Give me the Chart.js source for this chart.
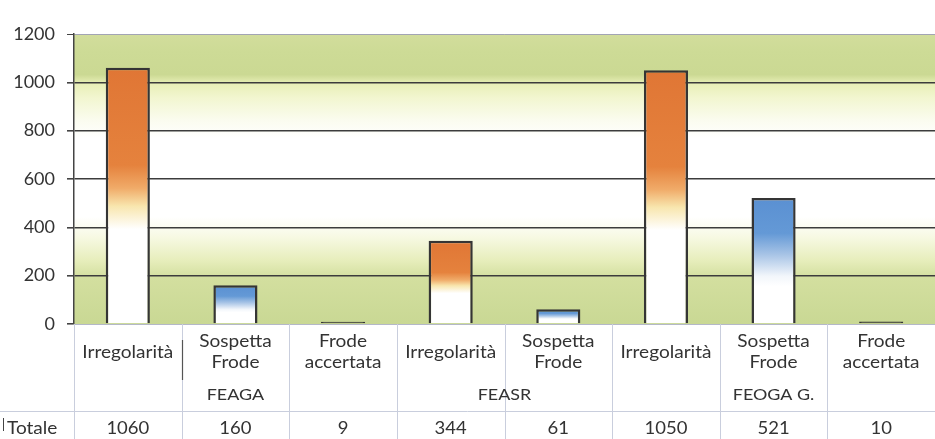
<!DOCTYPE html>
<html>
<head>
<meta charset="utf-8">
<script src="https://cdn.jsdelivr.net/npm/chart.js@4/dist/chart.umd.min.js"></script>
<style>
  html, body { margin: 0; padding: 0; background: #ffffff; }
  #wrap { width: 935px; height: 439px; position: relative; }
</style>
</head>
<body>
<div id="wrap"><canvas id="c" width="935" height="439"></canvas></div>
<script>
// ---- data ----
const groups = ['FEAGA', 'FEASR', 'FEOGA G.'];
const groupOf = [0, 0, 0, 1, 1, 2, 2, 2];
const categories = [
  ['Irregolarità'], ['Sospetta', 'Frode'], ['Frode', 'accertata'],
  ['Irregolarità'], ['Sospetta', 'Frode'],
  ['Irregolarità'], ['Sospetta', 'Frode'], ['Frode', 'accertata']
];
const kinds = ['irr', 'sosp', 'frode', 'irr', 'sosp', 'irr', 'sosp', 'frode'];
const values = [1060, 160, 9, 344, 61, 1050, 521, 10];
const tableLabel = 'Totale';
const yTicks = [0, 200, 400, 600, 800, 1000, 1200];

const FONT = 'Lato, "Open Sans", sans-serif';
const TEXT = '#333333';
const STRETCH = 1.12;

function barFill(context) {
  const chart = context.chart;
  const area = chart.chartArea;
  const kind = kinds[context.dataIndex];
  const solid = kind === 'irr' ? '#e27a3a' : '#5b92d4';
  if (!area || !context.parsed) return solid;
  const y = chart.scales.y;
  const top = y.getPixelForValue(context.parsed.y);
  const bot = y.getPixelForValue(0);
  if (bot - top < 4) return '#333333';
  const g = chart.ctx.createLinearGradient(0, top, 0, bot);
  if (kind === 'irr') {
    g.addColorStop(0, '#e07635');
    g.addColorStop(0.38, '#e5823d');
    g.addColorStop(0.47, '#f0ab69');
    g.addColorStop(0.54, '#f8e6ae');
    g.addColorStop(0.63, '#ffffff');
    g.addColorStop(1, '#ffffff');
  } else {
    g.addColorStop(0, '#5a90d2');
    g.addColorStop(0.28, '#6499d6');
    g.addColorStop(0.45, '#a8c4e6');
    g.addColorStop(0.62, '#f2f6fb');
    g.addColorStop(0.7, '#ffffff');
    g.addColorStop(1, '#ffffff');
  }
  return g;
}

const bgPlugin = {
  id: 'bg',
  beforeDraw(chart) {
    const { ctx, chartArea: a } = chart;
    ctx.save();
    ctx.fillStyle = '#ffffff';
    ctx.fillRect(0, 0, chart.width, chart.height);
    const g = ctx.createLinearGradient(0, a.top, 0, a.bottom);
    g.addColorStop(0.00, '#d2dd9c');
    g.addColorStop(0.06, '#cddb96');
    g.addColorStop(0.14, '#cbd993');
    g.addColorStop(0.17, '#e8efb6');
    g.addColorStop(0.22, '#f2f6d0');
    g.addColorStop(0.30, '#fbfcf0');
    g.addColorStop(0.36, '#ffffff');
    g.addColorStop(0.63, '#ffffff');
    g.addColorStop(0.70, '#f7f9e3');
    g.addColorStop(0.78, '#e7eebc');
    g.addColorStop(0.84, '#d3df9f');
    g.addColorStop(1.00, '#c9d894');
    ctx.fillStyle = g;
    ctx.fillRect(a.left, a.top, a.right - a.left, a.bottom - a.top);
    ctx.restore();
  }
};

function stretchedText(ctx, text, cx, y, align) {
  ctx.save();
  ctx.translate(cx, y);
  ctx.scale(STRETCH, 1);
  ctx.textAlign = align || 'center';
  ctx.fillText(text, 0, 0);
  ctx.restore();
}

const labelPlugin = {
  id: 'labels',
  afterDraw(chart) {
    const { ctx, chartArea: a } = chart;
    const x = chart.scales.x;
    const half = (x.getPixelForValue(1) - x.getPixelForValue(0)) / 2;
    ctx.save();
    // faint grid of the label table
    ctx.strokeStyle = '#c9cedd';
    ctx.lineWidth = 1;
    for (let i = 0; i <= categories.length; i++) {
      const px = Math.round(x.getPixelForValue(i) - half) + 0.5;
      ctx.beginPath();
      ctx.moveTo(px, a.bottom);
      ctx.lineTo(px, chart.height);
      ctx.stroke();
    }
    ctx.beginPath();
    ctx.moveTo(0, 411.5);
    ctx.lineTo(chart.width, 411.5);
    ctx.stroke();
    // dark stray separator
    ctx.strokeStyle = '#555555';
    ctx.lineWidth = 1.2;
    ctx.beginPath();
    ctx.moveTo(Math.round(x.getPixelForValue(1) - half) + 0.5, 340);
    ctx.lineTo(Math.round(x.getPixelForValue(1) - half) + 0.5, 380);
    ctx.stroke();

    ctx.fillStyle = TEXT;
    ctx.textBaseline = 'alphabetic';
    ctx.font = '17px ' + FONT;
    categories.forEach((lines, i) => {
      const cx = x.getPixelForValue(i);
      if (lines.length === 1) {
        stretchedText(ctx, lines[0], cx, 358);
      } else {
        stretchedText(ctx, lines[0], cx, 347);
        stretchedText(ctx, lines[1], cx, 368);
      }
    });
    // group labels
    ctx.font = '16px ' + FONT;
    groups.forEach((g, gi) => {
      const idx = groupOf.map((v, i) => v === gi ? i : -1).filter(i => i >= 0);
      const cx = (x.getPixelForValue(idx[0]) + x.getPixelForValue(idx[idx.length - 1])) / 2;
      stretchedText(ctx, g, cx, 400);
    });
    // table row
    ctx.font = '16.5px ' + FONT;
    values.forEach((v, i) => {
      stretchedText(ctx, String(v), x.getPixelForValue(i), 434);
    });
    ctx.font = '17px ' + FONT;
    stretchedText(ctx, tableLabel, 7, 434, 'left');
    ctx.strokeStyle = '#444444';
    ctx.lineWidth = 1;
    ctx.beginPath();
    ctx.moveTo(3.5, 418);
    ctx.lineTo(3.5, 431);
    ctx.stroke();
    ctx.restore();
  }
};

new Chart(document.getElementById('c'), {
  type: 'bar',
  data: {
    labels: categories,
    datasets: [{
      data: values,
      backgroundColor: barFill,
      borderColor: '#353535',
      borderWidth: 2.5,
      barPercentage: 0.41,
      categoryPercentage: 1.0
    }]
  },
  options: {
    responsive: false,
    animation: false,
    devicePixelRatio: 1,
    layout: { padding: { top: 34, right: 0, bottom: 0, left: 0 } },
    plugins: { legend: { display: false }, tooltip: { enabled: false } },
    scales: {
      x: {
        grid: { display: false },
        ticks: { display: false },
        border: { display: true, color: '#b4b8c8', width: 1 },
        afterFit(scale) { scale.height = 115; }
      },
      y: {
        min: 0,
        max: 1200,
        afterBuildTicks(scale) { scale.ticks = yTicks.map(v => ({ value: v })); },
        afterFit(scale) { scale.width = 74; },
        ticks: {
          color: TEXT,
          font: { family: FONT, size: 18 },
          padding: 12,
          callback: (v) => String(v)
        },
        grid: {
          drawTicks: true,
          tickLength: 7,
          tickColor: '#444444',
          color: (c) => {
            const v = c.tick ? c.tick.value : null;
            if (v === 1200) return '#a2a4b4';
            if (v === 0) return 'rgba(0,0,0,0)';
            return '#3c3c3c';
          },
          lineWidth: (c) => (c.tick && c.tick.value === 1200 ? 1 : 1.6)
        },
        border: { display: true, color: '#444444', width: 1.5 }
      }
    }
  },
  plugins: [bgPlugin, labelPlugin]
});
</script>
</body>
</html>
